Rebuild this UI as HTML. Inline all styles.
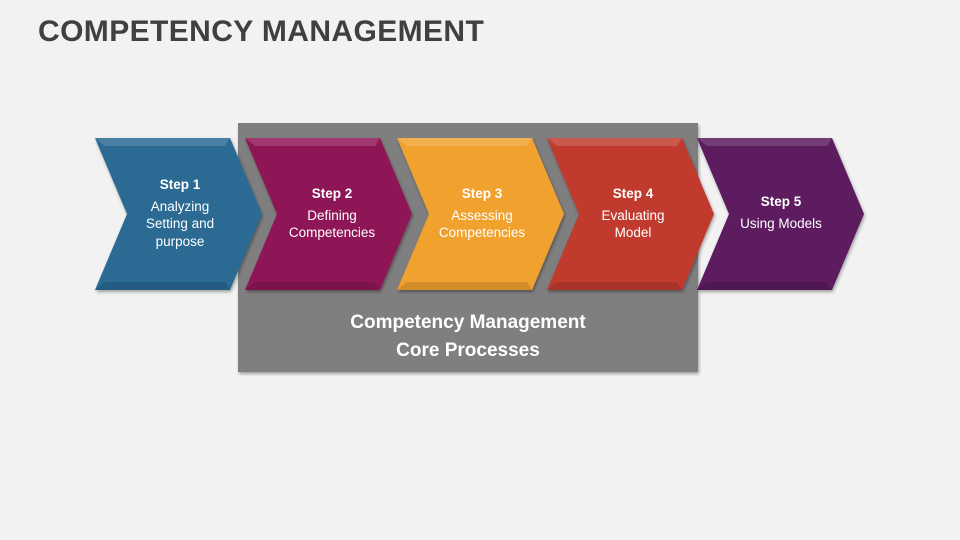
<!DOCTYPE html>
<html><head><style>
body{margin:0;width:960px;height:540px;background:#f2f2f2;font-family:"Liberation Sans",sans-serif;overflow:hidden;position:relative}
h1{position:absolute;left:38px;top:15px;margin:0;font-size:30px;font-weight:bold;color:#404040;letter-spacing:0.4px}
.box{position:absolute;left:238px;top:123px;width:460px;height:249px;background:#7f7f7f;box-shadow:1px 2px 3px rgba(0,0,0,.35)}
.cap{position:absolute;left:238px;top:309px;width:460px;text-align:center;color:#fff;font-weight:bold;font-size:19px;line-height:28px}
.t{position:absolute;width:150px;text-align:center;color:#fff;font-size:13.5px;line-height:17.5px}
.t b{display:block;margin-bottom:4px}
</style></head><body>
<h1>COMPETENCY MANAGEMENT</h1>
<div class="box"></div>
<svg width="960" height="540" style="position:absolute;left:0;top:0">
<defs>
<filter id="s"><feDropShadow dx="1" dy="2" stdDeviation="1.5" flood-opacity=".35"/></filter>
</defs>
<g filter="url(#s)">
<polygon points="95,138 230,138 262,214 230,290 95,290 127,214" fill="#2b6a93"/>
<polygon points="245,138 380,138 412,214 380,290 245,290 277,214" fill="#8f1957"/>
<polygon points="397,138 532,138 564,214 532,290 397,290 429,214" fill="#f0a12e"/>
<polygon points="547,138 682,138 714,214 682,290 547,290 579,214" fill="#c03a2e"/>
<polygon points="697,138 832,138 864,214 832,290 697,290 729,214" fill="#5b1c5e"/>
</g>
<g fill="rgba(255,255,255,0.15)">
<polygon points="95,138 230,138 225,146 105,146"/><polygon points="245,138 380,138 375,146 255,146"/>
<polygon points="397,138 532,138 527,146 407,146"/><polygon points="547,138 682,138 677,146 557,146"/>
<polygon points="697,138 832,138 827,146 707,146"/>
</g>
<g fill="rgba(0,0,0,0.12)">
<polygon points="95,290 230,290 225,282 105,282"/><polygon points="245,290 380,290 375,282 255,282"/>
<polygon points="397,290 532,290 527,282 407,282"/><polygon points="547,290 682,290 677,282 557,282"/>
<polygon points="697,290 832,290 827,282 707,282"/>
</g>
</svg>
<div class="t" style="left:105px;top:176px"><b>Step 1</b>Analyzing<br>Setting and<br>purpose</div>
<div class="t" style="left:257px;top:185px"><b>Step 2</b>Defining<br>Competencies</div>
<div class="t" style="left:407px;top:185px"><b>Step 3</b>Assessing<br>Competencies</div>
<div class="t" style="left:558px;top:185px"><b>Step 4</b>Evaluating<br>Model</div>
<div class="t" style="left:706px;top:193px"><b>Step 5</b>Using Models</div>
<div class="cap">Competency Management<br>Core Processes</div>
</body></html>
